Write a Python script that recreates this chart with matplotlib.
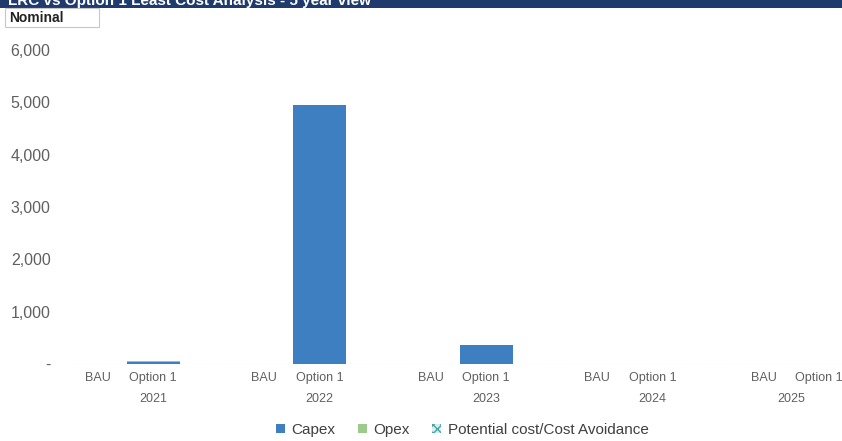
import matplotlib
matplotlib.use('Agg')
from matplotlib import pyplot as plt
from matplotlib.patches import Patch, Rectangle

plt.rcParams['font.family'] = ['Liberation Sans', 'DejaVu Sans']

years = ['2021', '2022', '2023', '2024', '2025']
scenarios = ['BAU', 'Option 1']
capex_bau = [0, 0, 0, 0, 0]
capex_opt = [35, 4950, 365, 0, 0]
opex_bau = [0, 0, 0, 0, 0]
opex_opt = [25, 0, 0, 0, 0]
avoid_bau = [0, 0, 0, 0, 0]
avoid_opt = [0, 0, 0, 0, 0]
yticks = [0, 1000, 2000, 3000, 4000, 5000, 6000]

capex_c = '#3e7fc1'
opex_c = '#9dc98b'
avoid_c = '#4aa3a8'
grey = '#606060'

W, H = 842, 441
fig = plt.figure(figsize=(W / 100, H / 100), dpi=100)

# plot area: BAU, Option 1, blank slot per year (14 slots, last blank dropped)
ax = fig.add_axes([70 / W, 77 / H, 777 / W, 314 / H])

for g in range(len(years)):
    for s, (cap, opx, av) in enumerate([(capex_bau, opex_bau, avoid_bau),
                                         (capex_opt, opex_opt, avoid_opt)]):
        x = 3 * g + s
        ax.bar(x, cap[g], width=0.955, color=capex_c)
        ax.bar(x, opx[g], width=0.955, bottom=cap[g], color=opex_c)
        ax.bar(x, av[g], width=0.955, bottom=cap[g] + opx[g],
               facecolor='white', edgecolor=avoid_c, hatch='xx', lw=0)
        ax.text(x, -0.045, scenarios[s], transform=ax.get_xaxis_transform(),
                ha='center', va='center', fontsize=9, color=grey)
    xc = 3 * g + 1 if g < len(years) - 1 else 3 * g + 0.5
    ax.text(xc, -0.11, years[g], transform=ax.get_xaxis_transform(),
            ha='center', va='center', fontsize=9, color=grey)

ax.set_xlim(-0.5, 13.5)
ax.set_ylim(0, 6000)
ax.set_yticks(yticks)
ax.set_yticklabels(['-' if v == 0 else f'{v:,}' for v in yticks])
ax.set_xticks([])
ax.tick_params(axis='y', length=0, pad=14, labelsize=11.5, labelcolor=grey)
for sp in ax.spines.values():
    sp.set_visible(False)
ax.axhline(0, color='#d0d0d0', lw=0.8, ls=(0, (2, 2)), zorder=0)

handles = [Patch(facecolor=capex_c, label='Capex'),
           Patch(facecolor=opex_c, label='Opex'),
           Patch(facecolor='#d8eeee', edgecolor=avoid_c, hatch='xxxx', lw=0,
                 label='Potential cost/Cost Avoidance')]
fig.legend(handles=handles, loc='center', bbox_to_anchor=(462 / W, 1 - 430 / H),
           ncol=3, frameon=False, fontsize=11, handlelength=0.6,
           handleheight=0.6, handletextpad=0.4, columnspacing=1.5,
           labelcolor='#404040')

# header banner, cut off at the top of the image
fig.patches.append(Rectangle((0, 1 - 8 / H), 1, 8 / H, transform=fig.transFigure,
                             facecolor='#1f3b6e', edgecolor='none', zorder=0))
fig.text(8 / W, 1 - 1 / H, 'LRC vs Option 1 Least Cost Analysis - 5 year view',
         ha='left', va='center', fontsize=11, fontweight='bold', color='white')

# "Nominal" box
fig.patches.append(Rectangle((5 / W, 1 - 27 / H), 94 / W, 19 / H,
                             transform=fig.transFigure, facecolor='white',
                             edgecolor='#c8c8c8', lw=0.8))
fig.text(9 / W, 1 - 17.5 / H, 'Nominal', ha='left', va='center',
         fontsize=10, fontweight='bold', color='#222222')

fig.savefig('out.png', dpi=100)
